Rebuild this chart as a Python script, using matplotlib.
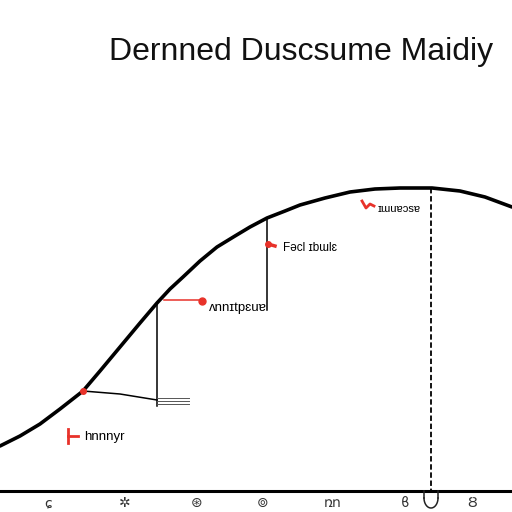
import numpy as np
import matplotlib.pyplot as plt

plt.rcParams['font.family'] = ['Liberation Sans', 'DejaVu Sans']

# ---- data (canvas units, y measured downward) ----
TITLE = "Dernned Duscsume Maidiy"

curve_x = [0, 20, 40, 60, 83, 100, 120, 140, 157, 170, 183, 200, 217, 235, 250,
           267, 285, 300, 325, 350, 375, 400, 432, 460, 485, 512]
curve_y = [446, 436, 424, 409, 391, 371, 347, 323, 303, 289, 277, 261, 247, 236, 227,
           218, 211, 205, 198, 192, 189, 188, 188, 191, 197, 207]

callout_x = [83, 160, 267, 365]
callout_labels = ["hnnnyr", "ʌnnɪtpɛuɐ", "Fǝcl ɪbɯlɛ", "ɪɯuɐɔsɐ"]

peak_x = 431
baseline_y = 491

icon_x = [48, 125, 197, 263, 333, 405, 472]
icon_labels = ["ɕ", "✲", "⊛", "⊚", "ռո", "ϐ", "Ȣ"]

RED = "#e8322a"

fig = plt.figure(figsize=(5.12, 5.12), dpi=100)
fig.patch.set_facecolor("white")
ax = fig.add_axes([0, 0, 1, 1])
ax.set_xlim(0, 512)
ax.set_ylim(512, 0)
ax.axis("off")


def on_curve(x):
    return float(np.interp(x, curve_x, curve_y))


# main curve
ax.plot(curve_x, curve_y, color="black", lw=2.6, solid_joinstyle="round",
        solid_capstyle="round", zorder=3)

# baseline and dashed peak line with loop below
ax.plot([0, 512], [baseline_y, baseline_y], color="black", lw=2.2)
ax.plot([peak_x, peak_x], [on_curve(peak_x), baseline_y], color="black", lw=1.3,
        ls=(0, (3, 1.5)))
t = np.linspace(np.pi, 2 * np.pi, 30)
ax.plot(peak_x + 7 * np.cos(t), 498 - 10 * np.sin(t), color="#222222", lw=1.1)
ax.plot([peak_x - 7, peak_x - 7], [491, 498], color="#222222", lw=1.1)
ax.plot([peak_x + 7, peak_x + 7], [491, 498], color="#222222", lw=1.1)

# callout 1: lower left, red tick and label
ax.plot([68, 68], [429, 443], color=RED, lw=2)
ax.plot([68, 78], [436, 436], color=RED, lw=2)
ax.text(84, 437, callout_labels[0], fontsize=9.5, va="center", ha="left")

# link from curve to the bracket
y1 = on_curve(callout_x[0])
ax.plot([callout_x[0]], [y1], "o", color=RED, ms=4, zorder=4)
ax.plot([callout_x[0], 120, 157], [y1, 394, 400], color="black", lw=1.1)
ax.plot([157, 157], [on_curve(157), 406], color="black", lw=1.1)
for dy in (398, 401, 404):
    ax.plot([157, 189], [dy, dy], color="#555555", lw=0.7)

# callout 2: red leader to the right
y2 = on_curve(callout_x[1])
ax.plot([callout_x[1] + 4, 200], [y2, y2], color=RED, lw=1.1)
ax.plot([202], [y2 + 1], "o", color=RED, ms=5)
ax.text(209, 308, callout_labels[1], fontsize=9.5, va="center", ha="left")
ax.plot([267, 267], [on_curve(267), 310], color="black", lw=1.1)

# callout 3
ax.plot([268, 275], [244, 246], color=RED, lw=2.5)
ax.plot([268], [244], "o", color=RED, ms=4)
ax.text(283, 248, callout_labels[2], fontsize=8.5, va="center", ha="left")

# callout 4
ax.plot([362, 366, 370, 374], [201, 208, 204, 206], color=RED, lw=2)
ax.text(378, 209, callout_labels[3], fontsize=8, va="center", ha="left")

# bottom glyphs
for x, s in zip(icon_x, icon_labels):
    ax.text(x, 503, s, fontsize=10, ha="center", va="center", color="#333333",
            family=["DejaVu Sans"])

# title
ax.text(493, 52, TITLE, fontsize=23, ha="right", va="center", color="#111111")

fig.savefig("out.png", dpi=100)
